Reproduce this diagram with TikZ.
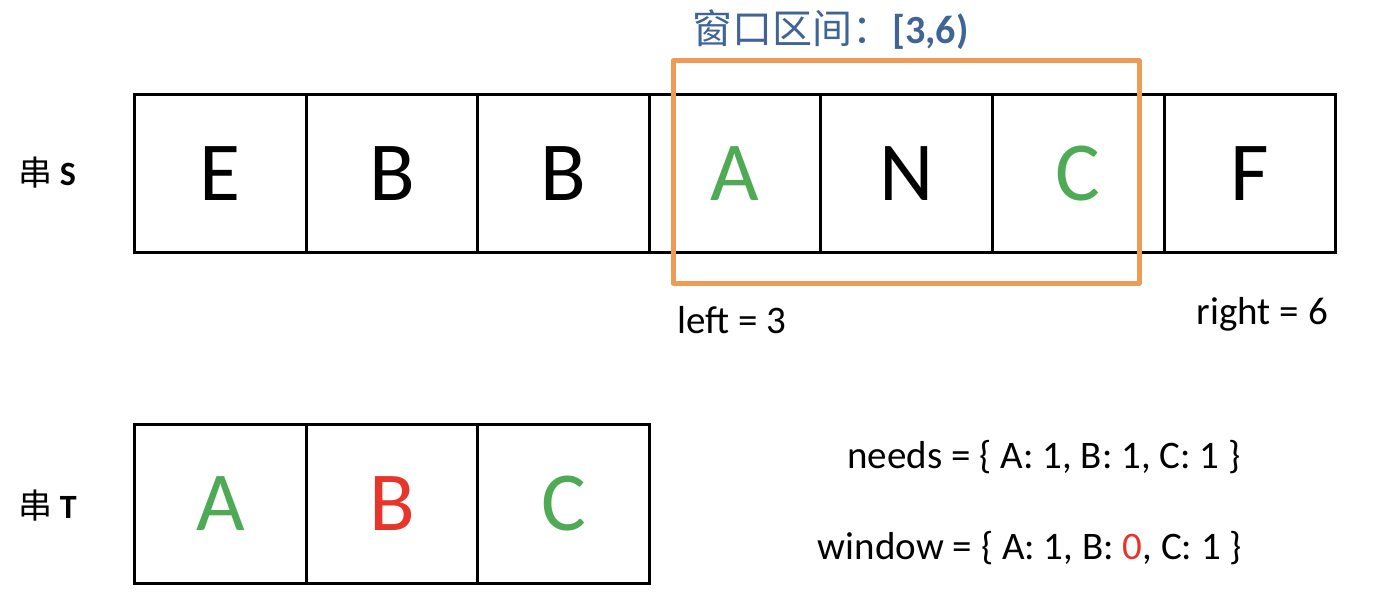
\documentclass[tikz,border=0pt]{standalone}
\usepackage{fontspec}
\setmainfont{Carlito}
\newfontfamily\cjk{Noto Sans CJK SC}
\definecolor{cgreen}{HTML}{4EAA55}
\definecolor{cred}{HTML}{E8352A}
\definecolor{corange}{HTML}{EF9B55}
\definecolor{cblue}{HTML}{3E6596}
\tikzset{
  cell/.style={draw=black, line width=3pt, minimum width=171.6pt, minimum height=158pt, inner sep=0pt, anchor=north west, font=\fontsize{84}{84}\selectfont},
  lbl/.style={inner sep=0pt, font=\fontsize{39}{39}\selectfont},
  rowlbl/.style={inner sep=0pt, font=\fontsize{34}{34}\selectfont},
}
\begin{document}
\begin{tikzpicture}[x=1pt,y=-1pt]
\useasboundingbox (0,0) rectangle (1376,602);
% string S
\foreach \ch/\col [count=\i from 0] in {E/black,B/black,B/black,A/cgreen,N/black,C/cgreen,F/black}{
  \node[cell, text=\col] (s\i) at (133+171.6*\i,93) {\ch};
}
% string T
\foreach \ch/\col [count=\i from 0] in {A/cgreen,B/cred,C/cgreen}{
  \node[cell, text=\col, minimum height=159pt] (t\i) at (133+171.7*\i,423) {\ch};
}
% window
\draw[corange, line width=5pt, line join=round] (673,61) rectangle (1139,283);
\node[inner sep=0pt, anchor=west, text=cblue, font=\fontsize{40}{40}\selectfont] (title) at (692,30) {{\cjk 窗口区间：}\textbf{[3,6)}};
% row labels
\node[rowlbl, anchor=west] (ls) at (18,173) {{\cjk 串} \textbf{S}};
\node[rowlbl, anchor=west] (lt) at (18,506) {{\cjk 串} \textbf{T}};
% pointers
\node[lbl, anchor=west] (left) at (677,320) {left = 3};
\node[lbl, anchor=east] (right) at (1328,314) {right = 6};
% maps
\node[lbl] (needs) at (1044,457) {needs = \{ A: 1, B: 1, C: 1 \}};
\node[lbl] (window) at (1030,548) {window = \{ A: 1, B: \textcolor{cred}{0}, C: 1 \}};
\end{tikzpicture}
\end{document}
